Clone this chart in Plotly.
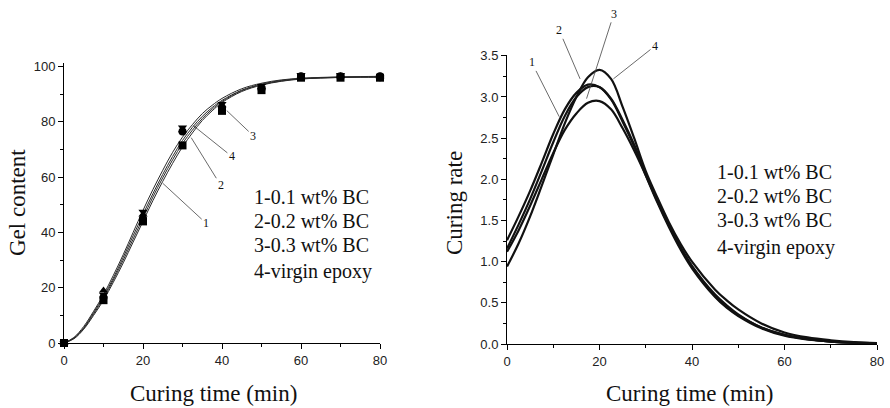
import plotly.graph_objects as go

W, H = 890, 408

# ---------------- Data: left panel (gel content) ----------------
t_fit = [0, 2.5, 5, 7.5, 10, 12.5, 15, 17.5, 20, 22.5, 25, 27.5, 30, 32.5, 35, 37.5, 40,
         45, 50, 55, 60, 65, 70, 75, 80]
gel_fit_1 = [0, 1.5, 5, 10, 15.5, 22, 29, 36.5, 44, 51.5, 58.5, 65, 71, 76, 80.5, 84, 87,
             91, 93.3, 94.7, 95.5, 95.9, 96.1, 96.2, 96.2]
gel_fit_2 = [0, 1.8, 5.5, 11, 16.8, 23.5, 31, 38.8, 46.5, 54, 61, 67.5, 73.3, 78, 82, 85.2, 87.8,
             91.5, 93.7, 95, 95.7, 96, 96.2, 96.3, 96.3]
gel_fit_3 = [0, 1.7, 5.3, 10.5, 16.2, 22.8, 30, 37.6, 45.2, 52.8, 59.8, 66.3, 72.2, 77, 81.2, 84.6, 87.4,
             91.3, 93.5, 94.8, 95.6, 95.9, 96.1, 96.2, 96.2]
gel_fit_4 = [0, 2, 6, 11.5, 17.5, 24.5, 32, 40, 48, 55.5, 62.5, 69, 74.5, 79, 83, 86, 88.5,
             92, 94, 95.2, 95.8, 96.1, 96.3, 96.4, 96.5]

t_meas = [0, 10, 20, 30, 40, 50, 60, 70, 80]
gel_meas_1 = [0, 15.5, 44, 71.5, 84, 91.5, 96, 96, 96]
gel_meas_2 = [0, 16.5, 45, 76.5, 85, 92, 96.5, 96.5, 96.5]
gel_meas_3 = [0, 19, 46.5, 77, 86, 92.5, 96.5, 96.5, 96.5]
gel_meas_4 = [0, 17.5, 47.5, 78, 86.5, 93, 97, 97, 96]

# ---------------- Data: right panel (curing rate) ----------------
t_rate = [0, 2.5, 5, 7.5, 10, 12.5, 15, 17.5, 20, 22.5, 25, 27.5, 30, 32.5, 35, 37.5, 40,
          45, 47.5, 50, 55, 60, 65, 70, 75, 80]
rate_1 = [1.26, 1.55, 1.86, 2.2, 2.55, 2.85, 3.05, 3.15, 3.12, 2.97, 2.7, 2.4, 2.05, 1.72, 1.42, 1.15, 0.92,
          0.57, 0.44, 0.34, 0.19, 0.10, 0.055, 0.03, 0.015, 0.008]
rate_2 = [1.16, 1.45, 1.76, 2.1, 2.45, 2.77, 3.0, 3.12, 3.12, 2.98, 2.72, 2.42, 2.07, 1.74, 1.44, 1.17, 0.94,
          0.58, 0.45, 0.35, 0.20, 0.11, 0.06, 0.03, 0.016, 0.008]
rate_3 = [1.12, 1.38, 1.68, 2.0, 2.32, 2.6, 2.8, 2.93, 2.95, 2.85, 2.62, 2.35, 2.05, 1.74, 1.45, 1.18, 0.95,
          0.60, 0.47, 0.36, 0.20, 0.11, 0.06, 0.03, 0.016, 0.008]
rate_4 = [0.94, 1.22, 1.55, 1.92, 2.3, 2.68, 3.0, 3.24, 3.33, 3.22, 2.88, 2.5, 2.1, 1.78, 1.48, 1.22, 1.0,
          0.66, 0.53, 0.42, 0.25, 0.14, 0.08, 0.045, 0.022, 0.01]

legend_lines = ["1-0.1 wt% BC", "2-0.2 wt% BC", "3-0.3 wt% BC", "4-virgin epoxy"]
curve_labels = ["1", "2", "3", "4"]

SERIF = "Liberation Serif, Times New Roman, serif"
SANS = "Liberation Sans, Arial, sans-serif"

fig = go.Figure()

# left fitted curves
for ys in [gel_fit_1, gel_fit_2, gel_fit_3, gel_fit_4]:
    fig.add_trace(go.Scatter(x=t_fit, y=ys, mode="lines", line=dict(color="#2a2a2a", width=1, shape="spline"),
                             xaxis="x", yaxis="y", showlegend=False, hoverinfo="skip"))
# left measured markers
for ys, sym in zip([gel_meas_1, gel_meas_2, gel_meas_3, gel_meas_4],
                   ["square", "circle", "triangle-up", "triangle-down"]):
    fig.add_trace(go.Scatter(x=t_meas, y=ys, mode="markers", marker=dict(color="black", size=8, symbol=sym),
                             xaxis="x", yaxis="y", showlegend=False, cliponaxis=False))
# right curves
for ys in [rate_1, rate_2, rate_3, rate_4]:
    fig.add_trace(go.Scatter(x=t_rate, y=ys, mode="lines", line=dict(color="#111", width=2.2, shape="spline"),
                             xaxis="x2", yaxis="y2", showlegend=False))


def px2x(p):
    return p / W


def px2y(p):
    return 1 - p / H


axis_common = dict(showline=True, linecolor="black", linewidth=1, ticks="outside", ticklen=5,
                   tickcolor="black", tickwidth=1, showgrid=False, zeroline=False, automargin=False,
                   tickfont=dict(family=SANS, size=13, color="#222"))

fig.update_layout(
    width=W, height=H, margin=dict(l=0, r=0, t=0, b=0, autoexpand=False),
    paper_bgcolor="white", plot_bgcolor="white",
    xaxis=dict(domain=[px2x(64), px2x(380)], range=[0, 80], dtick=20, anchor="y",
               minor=dict(dtick=10, ticklen=3, ticks="outside", tickcolor="black"), **axis_common),
    yaxis=dict(domain=[px2y(343), px2y(62.5)], range=[0, 101.5], tickvals=[0, 20, 40, 60, 80, 100], anchor="x",
               minor=dict(tickvals=[10, 30, 50, 70, 90], ticklen=3, ticks="outside", tickcolor="black"), **axis_common),
    xaxis2=dict(domain=[px2x(507), px2x(877)], range=[0, 80], dtick=20, anchor="y2",
                minor=dict(dtick=10, ticklen=3, ticks="outside", tickcolor="black"), **axis_common),
    yaxis2=dict(domain=[px2y(344), px2y(55)], range=[0, 3.51], dtick=0.5, tickformat=".1f", anchor="x2",
                minor=dict(dtick=0.25, ticklen=3, ticks="outside", tickcolor="black"), **axis_common),
)

ann = []
title_font = dict(family=SERIF, size=23, color="#111")
# axis titles
ann.append(dict(text="Gel content", x=px2x(17), y=px2y(203), xref="paper", yref="paper", textangle=-90,
                xanchor="center", yanchor="middle", showarrow=False, font=title_font))
ann.append(dict(text="Curing time (min)", x=px2x(213), y=px2y(393), xref="paper", yref="paper",
                xanchor="center", yanchor="middle", showarrow=False, font=title_font))
ann.append(dict(text="Curing rate", x=px2x(454), y=px2y(203), xref="paper", yref="paper", textangle=-90,
                xanchor="center", yanchor="middle", showarrow=False, font=title_font))
ann.append(dict(text="Curing time (min)", x=px2x(689), y=px2y(393), xref="paper", yref="paper",
                xanchor="center", yanchor="middle", showarrow=False, font=title_font))

# legend text blocks
for ys, x0 in [([196.5, 221.5, 244.5, 271.5], 251.5), ([171.5, 195.5, 220, 248], 715)]:
    for txt, yp in zip(legend_lines, ys):
        ann.append(dict(text=txt, x=px2x(x0), y=px2y(yp), xref="paper", yref="paper", xanchor="left",
                        yanchor="middle", showarrow=False, font=dict(family=SERIF, size=20, color="#111")))

# curve labels with leader lines
left_lab = [((36, 43.3), (25, 57.8)), ((39.7, 57), (32.2, 74.3)), ((47.9, 75), (41.2, 84.1)),
            ((42.5, 67.5), (32.7, 78.7))]
right_lab = [((5.34, 3.42), (11.3, 2.76)), ((11.3, 3.81), (15.8, 3.22)), ((23.1, 4.01), (17.2, 2.98)),
             ((32, 3.62), (23, 3.22))]
for (labs, xr, yr) in [(left_lab, "x", "y"), (right_lab, "x2", "y2")]:
    for lab, ((tx, ty), (px_, py_)) in zip(curve_labels, labs):
        ann.append(dict(text=lab, x=px_, y=py_, ax=tx, ay=ty, xref=xr, yref=yr, axref=xr, ayref=yr,
                        showarrow=True, arrowhead=0, arrowwidth=0.8, arrowcolor="#444", standoff=0,
                        font=dict(family=SERIF, size=12, color="#111")))

fig.update_layout(annotations=ann)
fig.write_html("out.html")
